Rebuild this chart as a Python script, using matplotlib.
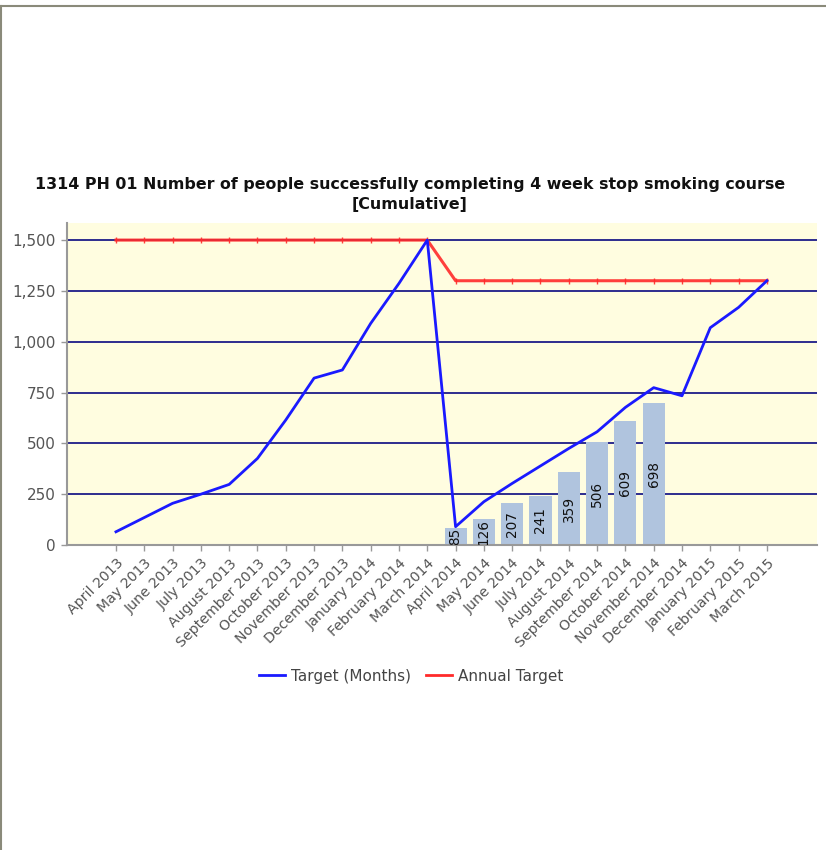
import matplotlib
matplotlib.use("Agg")
import matplotlib.pyplot as plt
from matplotlib.lines import Line2D
from matplotlib.ticker import FuncFormatter, MultipleLocator

months = [
    "April 2013", "May 2013", "June 2013", "July 2013", "August 2013",
    "September 2013", "October 2013", "November 2013", "December 2013",
    "January 2014", "February 2014", "March 2014",
    "April 2014", "May 2014", "June 2014", "July 2014", "August 2014",
    "September 2014", "October 2014", "November 2014", "December 2014",
    "January 2015", "February 2015", "March 2015",
]

# Cumulative monthly target (two financial years)
target_months = [65, 135, 205, 250, 298, 426, 615, 821, 861, 1090, 1287, 1500,
                 90, 213, 303, 389, 475, 557, 677, 774, 734, 1069, 1169, 1300]

# Annual target per financial year
annual_target = [1500] * 12 + [1300] * 12

# Cumulative actuals reported so far (April - November 2014)
actual_months = months[12:20]
actual_values = [85, 126, 207, 241, 359, 506, 609, 698]

plt.rcParams["font.family"] = ["DejaVu Sans"]

fig = plt.figure(figsize=(8.26, 8.5), dpi=100)
fig.patch.set_facecolor("white")

# thin frame around the chart panel (top and left edges)
fig.add_artist(Line2D([0, 1], [1 - 5.5 / 850, 1 - 5.5 / 850], transform=fig.transFigure,
                      color="#8a8a7a", lw=1.5))
fig.add_artist(Line2D([1 / 826, 1 / 826], [0, 1 - 5.5 / 850], transform=fig.transFigure,
                      color="#8a8a7a", lw=1.5))

ax = fig.add_axes([67 / 826, 305 / 850, 750 / 826, 322 / 850])
ax.set_facecolor("#fffde0")

x = list(range(len(months)))
idx = {m: i for i, m in enumerate(months)}

for yv in range(250, 1501, 250):
    ax.axhline(yv, color="#1c1c88", lw=1.3, zorder=1)

bar_x = [idx[m] for m in actual_months]
ax.bar(bar_x, actual_values, width=0.78, color="#b0c4de", zorder=2)
for bx, v in zip(bar_x, actual_values):
    ax.text(bx, v / 2, str(v), rotation=90, ha="center", va="center",
            fontsize=9.8, color="#111111", zorder=3, clip_on=True)

ax.plot(x, annual_target, color="#ff2a2a", lw=2.2, marker="|", ms=4, mew=1,
        alpha=0.9, zorder=4)
ax.plot(x, target_months, color="#1a1aff", lw=2, zorder=5)

ax.set_xlim(-1.73, 24.77)
ax.set_ylim(0, 1584)

ax.yaxis.set_major_locator(MultipleLocator(250))
ax.yaxis.set_major_formatter(FuncFormatter(lambda v, p: f"{int(v):,}"))
ax.set_xticks(x)
ax.set_xticklabels(months, rotation=45, ha="right", rotation_mode="anchor")

ax.tick_params(axis="y", colors="#999999", labelcolor="#555555", labelsize=11,
               length=4, width=1, pad=4)
ax.tick_params(axis="x", colors="#999999", labelcolor="#555555", labelsize=10.2,
               length=4, width=1, pad=4)

for side in ("top", "right"):
    ax.spines[side].set_visible(False)
for side in ("left", "bottom"):
    ax.spines[side].set_color("#999999")
    ax.spines[side].set_linewidth(1.5)

fig.text(410 / 826, 1 - 184 / 850,
         "1314 PH 01 Number of people successfully completing 4 week stop smoking course",
         ha="center", va="center", fontsize=11.4, fontweight="bold", color="#111111")
fig.text(410 / 826, 1 - 204 / 850, "[Cumulative]",
         ha="center", va="center", fontsize=11.4, fontweight="bold", color="#111111")

legend_handles = [Line2D([], [], color="#1a1aff", lw=2),
                  Line2D([], [], color="#ff2a2a", lw=2)]
leg = fig.legend(legend_handles, ["Target (Months)", "Annual Target"],
                 loc="center", bbox_to_anchor=(411 / 826, 1 - 676 / 850), ncol=2,
                 frameon=False, fontsize=11, handlelength=1.7, handletextpad=0.4,
                 columnspacing=1.0)
for t in leg.get_texts():
    t.set_color("#444444")

fig.savefig("out.png", dpi=100, facecolor="white")
